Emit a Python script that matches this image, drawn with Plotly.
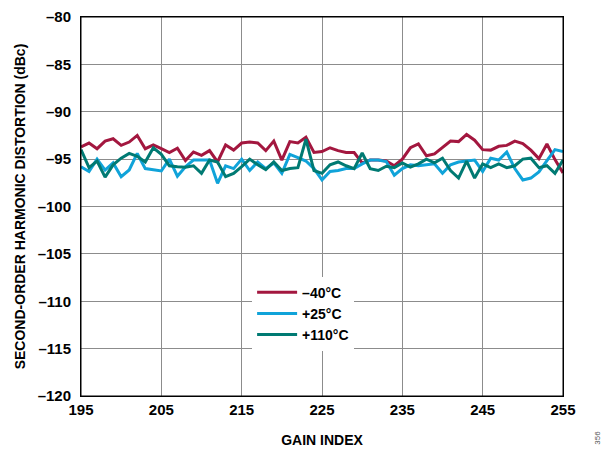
import plotly.graph_objects as go

gain_index = list(range(195, 256))

hd2_m40 = [-93.7, -93.3, -93.9, -93.1, -92.85, -93.55, -93.2, -92.5, -93.9, -93.5,
           -93.9, -94.3, -93.85, -95.15, -94.25, -94.6, -94.1, -95.3, -93.5, -94.05,
           -93.3, -93.2, -93.3, -94.1, -93.1, -95.1, -93.15, -93.3, -92.7, -94.3,
           -94.2, -93.8, -94.1, -94.3, -94.3, -95.4, -95.1, -95.1, -95.2, -95.7,
           -95.0, -93.8, -93.4, -94.65, -94.45, -93.75, -93.1, -93.15, -92.4, -93.0,
           -94.0, -94.05, -93.65, -93.55, -93.1, -93.35, -94.05, -94.95, -93.4, -95.05,
           -96.45]

hd2_p25 = [-95.8, -96.3, -95.0, -96.15, -95.4, -96.85, -96.15, -94.4, -96.0, -96.15,
           -96.25, -95.0, -96.8, -95.8, -95.1, -95.1, -95.1, -97.55, -95.7, -96.0,
           -95.0, -96.2, -95.3, -96.0, -95.4, -96.5, -94.5, -94.85, -95.2, -96.0,
           -97.2, -96.3, -96.2, -96.0, -96.0, -95.5, -95.1, -95.1, -95.25, -96.7,
           -96.0, -95.6, -95.7, -95.6, -95.5, -96.5, -95.6, -95.3, -95.2, -95.1,
           -96.3, -94.9, -95.1, -94.25, -96.0, -97.2, -97.0, -96.35, -95.15, -94.0,
           -94.2]

hd2_p110 = [-94.0, -95.9, -95.2, -96.9, -95.6, -94.9, -94.4, -94.7, -95.3, -93.8,
            -94.5, -95.7, -95.8, -95.85, -95.7, -96.5, -95.1, -95.3, -96.85, -96.5,
            -95.8, -95.0, -95.6, -96.1, -95.3, -96.2, -96.0, -95.9, -92.9, -96.2,
            -96.5, -95.6, -95.3, -95.7, -96.0, -94.35, -96.0, -96.2, -95.75, -95.9,
            -95.4, -95.85, -95.5, -95.0, -95.4, -94.9, -96.2, -97.0, -95.2, -97.0,
            -95.5, -95.9, -95.5, -95.9, -95.7, -95.0, -94.9, -95.9, -95.7, -96.5,
            -95.1]

x_ticks = [195, 205, 215, 225, 235, 245, 255]
y_ticks = [-120, -115, -110, -105, -100, -95, -90, -85, -80]
y_labels = ['–' + str(abs(v)) for v in y_ticks]

fnt = 'Liberation Sans, Arial, sans-serif'

fig = go.Figure()
fig.add_trace(go.Scatter(x=gain_index, y=hd2_m40, mode='lines', name='<b>–40°C</b>',
                         line=dict(color='#a3173f', width=3)))
fig.add_trace(go.Scatter(x=gain_index, y=hd2_p25, mode='lines', name='<b>+25°C</b>',
                         line=dict(color='#10a3d9', width=3)))
fig.add_trace(go.Scatter(x=gain_index, y=hd2_p110, mode='lines', name='<b>+110°C</b>',
                         line=dict(color='#007a73', width=3)))

# page body has an 8px margin, so the figure is a bit smaller than the window
fig.update_layout(
    width=608, height=442,
    margin=dict(l=73, r=53, t=9, b=54, autoexpand=False),
    paper_bgcolor='white', plot_bgcolor='white',
    font=dict(family=fnt, size=15, color='black'),
    showlegend=True,
    legend=dict(x=0.355, y=0.315, xanchor='left', yanchor='top',
                bgcolor='white', borderwidth=0, font=dict(size=14),
                itemwidth=40, tracegroupgap=0),
    annotations=[dict(text='356', x=1.0726, y=-0.11, xref='paper', yref='paper',
                      showarrow=False, textangle=-90, font=dict(size=8, color='#555'),
                      xanchor='center', yanchor='middle')],
    shapes=[dict(type='rect', xref='paper', yref='paper', x0=0, x1=1, y0=0, y1=1,
                 line=dict(color='black', width=1), layer='above')]
)

fig.update_xaxes(range=[195, 255], tickvals=x_ticks,
                 ticktext=['<b>%d</b>' % v for v in x_ticks],
                 showgrid=True, gridcolor='#8c8c8c', gridwidth=1,
                 showline=True, linecolor='black', linewidth=1, mirror=True,
                 ticks='', zeroline=False, automargin=False,
                 title=dict(text='<b>GAIN INDEX</b>', font=dict(size=14), standoff=18))
fig.update_yaxes(range=[-120, -80], tickvals=y_ticks,
                 ticktext=['<b>%s</b>' % t for t in y_labels],
                 showgrid=True, gridcolor='#8c8c8c', gridwidth=1,
                 showline=True, linecolor='black', linewidth=1, mirror=True,
                 ticks='', zeroline=False, automargin=False, ticklabelstandoff=6,
                 ticklabeloverflow='allow',
                 title=dict(text='<b>SECOND-ORDER HARMONIC DISTORTION (dBc)</b>',
                            font=dict(size=14), standoff=8))

fig.write_html("out.html")
